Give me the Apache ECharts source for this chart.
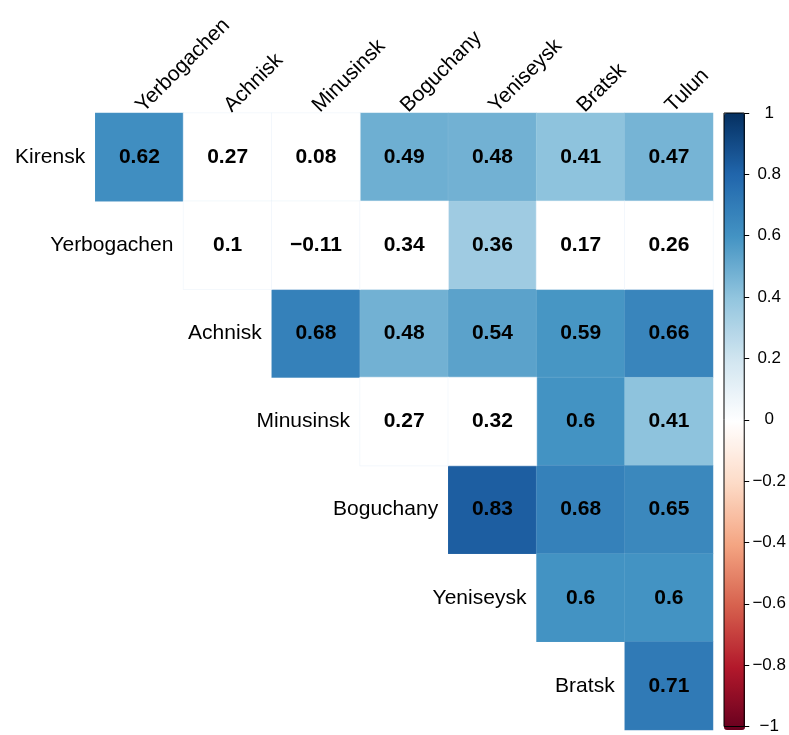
<!DOCTYPE html>
<html>
<head>
<meta charset="utf-8">
<script src="https://cdn.jsdelivr.net/npm/echarts@6/dist/echarts.min.js"></script>
<style>
	html, body { margin: 0; padding: 0; background: #fff; }
	#container { width: 789px; height: 735px; }
</style>
</head>
<body>
<div id="container"></div>
<script>
	// row / column names of the correlation matrix (upper triangle)
	var rowNames = ['Kirensk', 'Yerbogachen', 'Achnisk', 'Minusinsk', 'Boguchany', 'Yeniseysk', 'Bratsk'];
	var colNames = ['Yerbogachen', 'Achnisk', 'Minusinsk', 'Boguchany', 'Yeniseysk', 'Bratsk', 'Tulun'];
	var corrValues = [
		[0.62, 0.27, 0.08, 0.49, 0.48, 0.41, 0.47],
		[null, 0.1, -0.11, 0.34, 0.36, 0.17, 0.26],
		[null, null, 0.68, 0.48, 0.54, 0.59, 0.66],
		[null, null, null, 0.27, 0.32, 0.6, 0.41],
		[null, null, null, null, 0.83, 0.68, 0.65],
		[null, null, null, null, null, 0.6, 0.6],
		[null, null, null, null, null, null, 0.71]
	];
	// not significant cells, drawn blank: [row, col]
	var blankCells = [[0, 1], [0, 2], [1, 1], [1, 2], [1, 3], [1, 5], [1, 6], [3, 3], [3, 4]];
	var palette = ['#67001F', '#B2182B', '#D6604D', '#F4A582', '#FDDBC7', '#FFFFFF',
		'#D1E5F0', '#92C5DE', '#4393C3', '#2166AC', '#053061'];

	var FONT = 'Liberation Sans';
	var fmt = function(v) {
		return String(v).replace('-', '\u2212');
	};
	var isBlank = function(r, c) {
		for(var i = 0; i < blankCells.length; i++) {
			if(blankCells[i][0] === r && blankCells[i][1] === c) return true;
		}
		return false;
	};

	var sigData = [], blankData = [];
	for(var r = 0; r < corrValues.length; r++) {
		for(var c = 0; c < corrValues[r].length; c++) {
			var v = corrValues[r][c];
			if(v === null) continue;
			// first x category is an empty slot used for the Kirensk label
			if(isBlank(r, c)) blankData.push([c + 1, r, v]);
			else sigData.push([c + 1, r, v]);
		}
	}
	var labelData = rowNames.map(function(n, i) {
		return [i, i];
	});

	var cellLabel = {
		show: true,
		fontFamily: FONT,
		fontSize: 21,
		fontWeight: 'bold',
		color: '#000',
		formatter: function(p) {
			return fmt(p.value[2]);
		}
	};

	var myChart = echarts.init(document.getElementById('container'));
	var option = {
		animation: false,
		textStyle: { fontFamily: FONT },
		grid: [{
			left: 7, top: 113, width: 706, height: 617
		}, {
			left: 724, top: 113, width: 21, height: 617,
			show: true, borderColor: '#000', borderWidth: 1, backgroundColor: 'transparent', z: 10
		}],
		xAxis: [{
			type: 'category',
			gridIndex: 0,
			position: 'top',
			data: [''].concat(colNames),
			axisLine: { show: false },
			axisTick: { show: false },
			splitLine: { show: false },
			axisLabel: {
				interval: 0,
				rotate: -45,
				margin: 4,
				fontSize: 21,
				color: '#000',
				fontFamily: FONT
			}
		}, {
			type: 'category',
			gridIndex: 1,
			data: [''],
			show: false
		}],
		yAxis: [{
			type: 'category',
			gridIndex: 0,
			inverse: true,
			data: rowNames,
			show: false
		}, {
			type: 'value',
			gridIndex: 1,
			position: 'right',
			min: -1,
			max: 1,
			interval: 0.2,
			z: 20,
			axisLine: { show: false },
			splitLine: { show: false },
			axisTick: { show: true, length: 5, lineStyle: { color: '#000', width: 1 } },
			axisLabel: {
				margin: 25,
				align: 'center',
				fontSize: 17,
				color: '#000',
				fontFamily: FONT,
				formatter: function(v) {
					return fmt(Math.round(v * 10) / 10);
				}
			}
		}],
		visualMap: {
			type: 'continuous',
			seriesIndex: 0,
			min: -1,
			max: 1,
			calculable: false,
			orient: 'vertical',
			left: 724,
			top: 113,
			padding: 0,
			itemWidth: 21,
			itemHeight: 617,
			inRange: { color: palette }
		},
		series: [{
			type: 'heatmap',
			xAxisIndex: 0,
			yAxisIndex: 0,
			data: sigData,
			label: cellLabel,
			itemStyle: { borderColor: 'rgba(255,255,255,0.15)', borderWidth: 0.5 },
			emphasis: { disabled: true }
		}, {
			type: 'heatmap',
			xAxisIndex: 0,
			yAxisIndex: 0,
			data: blankData,
			label: cellLabel,
			itemStyle: { color: '#fff', borderColor: '#e8f0f8', borderWidth: 0.5 },
			emphasis: { disabled: true }
		}, {
			type: 'scatter',
			xAxisIndex: 0,
			yAxisIndex: 0,
			data: labelData,
			symbol: 'rect',
			symbolSize: [80, 80],
			itemStyle: { color: '#fff', opacity: 1 },
			label: {
				show: true,
				position: 'insideRight',
				distance: 6,
				fontSize: 21,
				color: '#000',
				opacity: 1,
				fontFamily: FONT,
				formatter: function(p) {
					return rowNames[p.dataIndex];
				}
			},
			emphasis: { disabled: true }
		}]
	};
	myChart.setOption(option);
</script>
</body>
</html>
